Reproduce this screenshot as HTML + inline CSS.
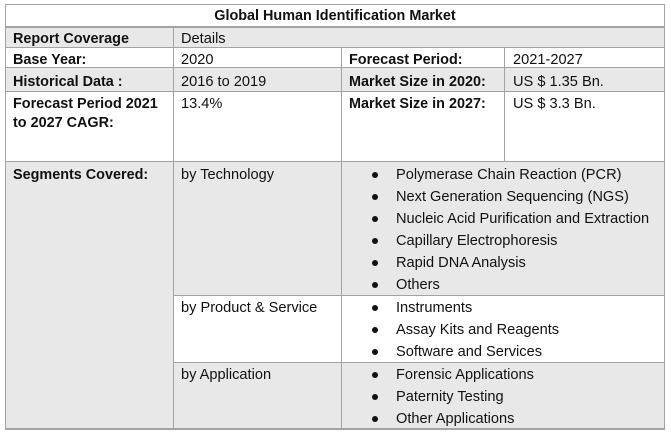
<!DOCTYPE html>
<html><head><meta charset="utf-8">
<style>
html,body{margin:0;padding:0;background:#fff;}
body{width:671px;height:440px;position:relative;overflow:hidden;font-family:"Liberation Sans",Arial,sans-serif;font-size:14.6px;color:#111;}
.bg{position:absolute;background:#e8e8e8;}
.h{position:absolute;height:1px;background:#a3a3a3;}
.v{position:absolute;width:1px;background:#a3a3a3;}
.t{position:absolute;line-height:20px;white-space:nowrap;}
.b{font-weight:bold;font-size:14.4px;}
.dot{position:absolute;width:6px;height:6px;border-radius:50%;background:#111;}
</style></head><body>
<!-- backgrounds -->
<div class="bg" style="left:5px;top:27px;width:659px;height:20px;"></div>
<div class="bg" style="left:5px;top:67px;width:659px;height:24px;"></div>
<div class="bg" style="left:5px;top:161px;width:659px;height:134px;"></div>
<div class="bg" style="left:5px;top:295px;width:168px;height:134px;"></div>
<div class="bg" style="left:173px;top:362px;width:491px;height:67px;"></div>

<!-- horizontal lines -->
<div class="h" style="left:5px;top:4px;width:660px;"></div>
<div class="h" style="left:5px;top:26px;width:660px;height:2px;"></div>
<div class="h" style="left:5px;top:47px;width:660px;"></div>
<div class="h" style="left:5px;top:67px;width:660px;"></div>
<div class="h" style="left:5px;top:91px;width:660px;"></div>
<div class="h" style="left:5px;top:161px;width:660px;"></div>
<div class="h" style="left:173px;top:295px;width:492px;"></div>
<div class="h" style="left:173px;top:362px;width:492px;"></div>
<div class="h" style="left:5px;top:428px;width:660px;height:2px;"></div>

<!-- vertical lines -->
<div class="v" style="left:5px;top:4px;height:426px;"></div>
<div class="v" style="left:664px;top:4px;height:426px;"></div>
<div class="v" style="left:173px;top:27px;height:402px;"></div>
<div class="v" style="left:341px;top:47px;height:382px;"></div>
<div class="v" style="left:504px;top:47px;height:114px;"></div>

<!-- text -->
<div class="t b" style="left:5px;width:660px;text-align:center;top:6px;">Global Human Identification Market</div>

<div class="t b" style="left:13px;top:29px;">Report Coverage</div>
<div class="t" style="left:181px;top:29px;">Details</div>

<div class="t b" style="left:13px;top:50px;">Base Year:</div>
<div class="t" style="left:181px;top:50px;">2020</div>
<div class="t b" style="left:349px;top:50px;">Forecast Period:</div>
<div class="t" style="left:513px;top:50px;">2021-2027</div>

<div class="t b" style="left:13px;top:72px;">Historical Data :</div>
<div class="t" style="left:181px;top:72px;">2016 to 2019</div>
<div class="t b" style="left:349px;top:72px;">Market Size in 2020:</div>
<div class="t" style="left:513px;top:72px;">US $ 1.35 Bn.</div>

<div class="t b" style="left:13px;top:94px;">Forecast Period 2021</div>
<div class="t b" style="left:13px;top:113px;">to 2027 CAGR:</div>
<div class="t" style="left:181px;top:94px;">13.4%</div>
<div class="t b" style="left:349px;top:94px;">Market Size in 2027:</div>
<div class="t" style="left:513px;top:94px;">US $ 3.3 Bn.</div>

<div class="t b" style="left:13px;top:165px;">Segments Covered:</div>
<div class="t" style="left:181px;top:165px;">by Technology</div>
<div class="t" style="left:181px;top:298px;">by Product &amp; Service</div>
<div class="t" style="left:181px;top:365px;">by Application</div>

<div class="dot" style="left:372px;top:172px;"></div><div class="t" style="left:396px;top:165px;">Polymerase Chain Reaction (PCR)</div>
<div class="dot" style="left:372px;top:194px;"></div><div class="t" style="left:396px;top:187px;">Next Generation Sequencing (NGS)</div>
<div class="dot" style="left:372px;top:216px;"></div><div class="t" style="left:396px;top:209px;">Nucleic Acid Purification and Extraction</div>
<div class="dot" style="left:372px;top:238px;"></div><div class="t" style="left:396px;top:231px;">Capillary Electrophoresis</div>
<div class="dot" style="left:372px;top:260px;"></div><div class="t" style="left:396px;top:253px;">Rapid DNA Analysis</div>
<div class="dot" style="left:372px;top:282px;"></div><div class="t" style="left:396px;top:275px;">Others</div>

<div class="dot" style="left:372px;top:305px;"></div><div class="t" style="left:396px;top:298px;">Instruments</div>
<div class="dot" style="left:372px;top:327px;"></div><div class="t" style="left:396px;top:320px;">Assay Kits and Reagents</div>
<div class="dot" style="left:372px;top:349px;"></div><div class="t" style="left:396px;top:342px;">Software and Services</div>

<div class="dot" style="left:372px;top:372px;"></div><div class="t" style="left:396px;top:365px;">Forensic Applications</div>
<div class="dot" style="left:372px;top:394px;"></div><div class="t" style="left:396px;top:387px;">Paternity Testing</div>
<div class="dot" style="left:372px;top:416px;"></div><div class="t" style="left:396px;top:409px;">Other Applications</div>
</body></html>
